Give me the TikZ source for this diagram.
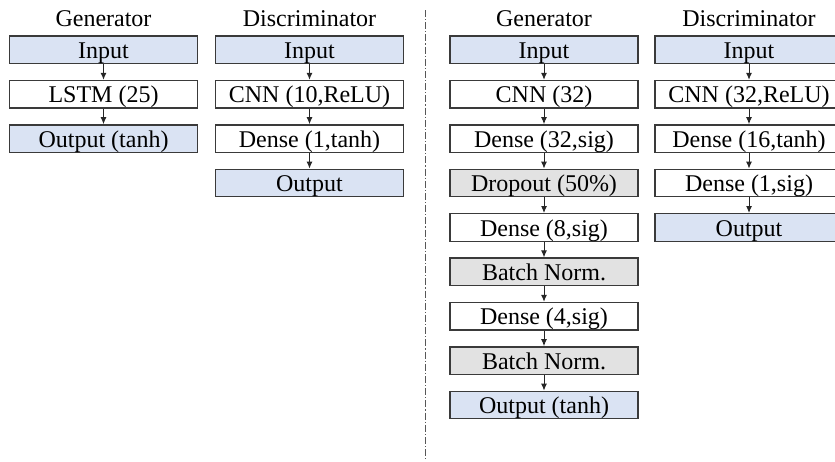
\documentclass[tikz,border=0pt]{standalone}
\usepackage{fontspec}
\setmainfont{Liberation Serif}
\usetikzlibrary{positioning,arrows.meta}
\definecolor{ioblue}{HTML}{DAE3F3}
\definecolor{laygray}{HTML}{E2E2E2}
\definecolor{edge}{HTML}{3A3A3A}
\begin{document}
\begin{tikzpicture}[node distance={7.8pt}, font=\fontsize{12}{14}\selectfont,
    main/.style = {draw=edge, line width=0.65pt, minimum width=94pt, minimum height=13.75pt, inner sep=0pt, text height=11.25pt, text depth=2.5pt},
    io/.style = {main, fill=ioblue},
    norm/.style = {main, fill=laygray},
    head/.style = {inner sep=0pt, text depth=0pt},
    link/.style = {draw=black!85, line width=0.5pt, -{Latex[length=3.5pt,width=3pt]}}]
    \useasboundingbox (0,0) rectangle (417.5pt,-230.5pt);
    % first model
    \node[io] (g1) at (51.75pt,-24.9pt) {Input};
    \node[main] (g2) [below = of g1] {LSTM (25)};
    \node[io] (g3) [below = of g2] {Output (tanh)};
    \node[head] (gt) [above = 4.5pt of g1] {Generator};
    \node[io] (d1) at (154.75pt,-24.9pt) {Input};
    \node[main] (d2) [below = of d1] {CNN (10,ReLU)};
    \node[main] (d3) [below = of d2] {Dense (1,tanh)};
    \node[io] (d4) [below = of d3] {Output};
    \node[head] (dt) [above = 4.5pt of d1] {Discriminator};
    \draw[link] (g1) -- (g2);
    \draw[link] (g2) -- (g3);
    \draw[link] (d1) -- (d2);
    \draw[link] (d2) -- (d3);
    \draw[link] (d3) -- (d4);
    % separator
    \coordinate (top) at (212.5pt,-5pt);
    \coordinate (bottom) at (212.5pt,-230.5pt);
    \draw[edge!85, line width=0.5pt, dash pattern=on 3.5pt off 1pt on 0.6pt off 1pt] (top) -- (bottom);
    % second model
    \node[io] (G1) at (272pt,-24.9pt) {Input};
    \node[main] (G2) [below = of G1] {CNN (32)};
    \node[main] (G3) [below = of G2] {Dense (32,sig)};
    \node[norm] (G4) [below = of G3] {Dropout (50\%)};
    \node[main] (G5) [below = of G4] {Dense (8,sig)};
    \node[norm] (G6) [below = of G5] {Batch Norm.};
    \node[main] (G7) [below = of G6] {Dense (4,sig)};
    \node[norm] (G8) [below = of G7] {Batch Norm.};
    \node[io] (G9) [below = of G8] {Output (tanh)};
    \node[head] (Gt) [above = 4.5pt of G1] {Generator};
    \foreach \a/\b in {1/2,2/3,3/4,4/5,5/6,6/7,7/8,8/9}
        \draw[link] (G\a) -- (G\b);
    \node[io] (D1) at (374.5pt,-24.9pt) {Input};
    \node[main] (D2) [below = of D1] {CNN (32,ReLU)};
    \node[main] (D3) [below = of D2] {Dense (16,tanh)};
    \node[main] (D4) [below = of D3] {Dense (1,sig)};
    \node[io] (D5) [below = of D4] {Output};
    \node[head] (Dt) [above = 4.5pt of D1] {Discriminator};
    \foreach \a/\b in {1/2,2/3,3/4,4/5}
        \draw[link] (D\a) -- (D\b);
\end{tikzpicture}
\end{document}
